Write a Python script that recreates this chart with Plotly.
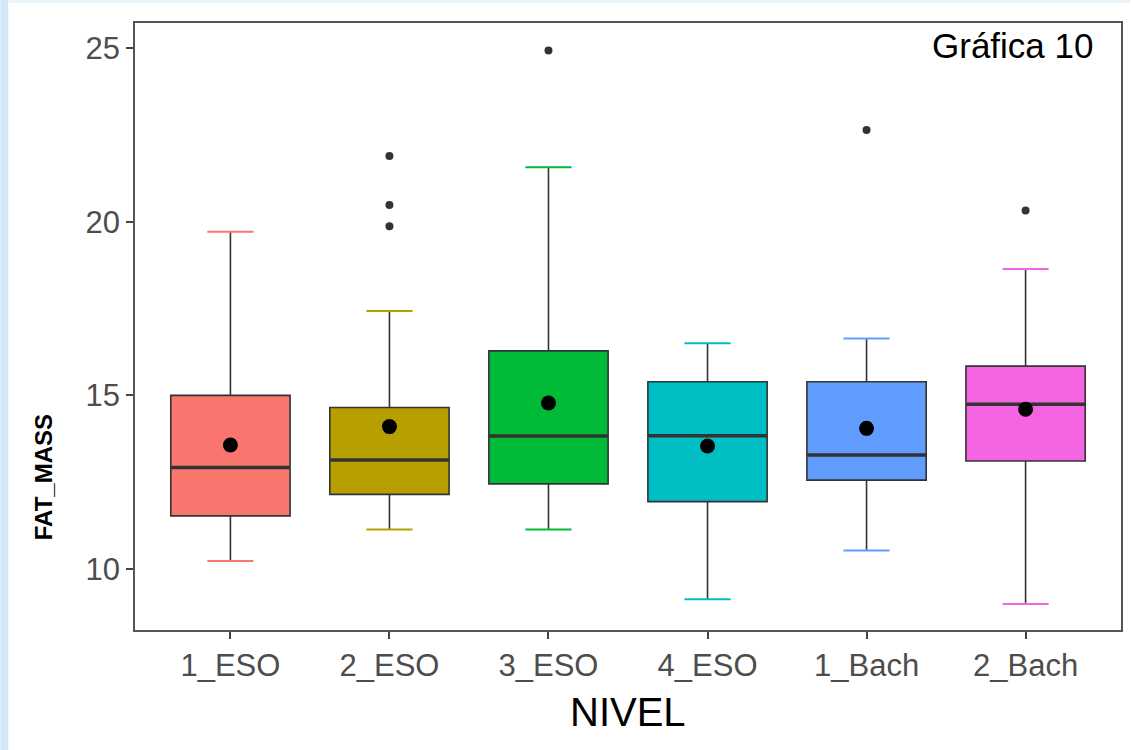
import plotly.graph_objects as go

# Fat mass by school level
niveles = ["1_ESO", "2_ESO", "3_ESO", "4_ESO", "1_Bach", "2_Bach"]
bigote_inf = [10.23, 11.14, 11.14, 9.13, 10.53, 8.99]
q1 = [11.53, 12.15, 12.45, 11.94, 12.56, 13.11]
mediana = [12.92, 13.14, 13.83, 13.84, 13.28, 14.74]
q3 = [15.00, 14.65, 16.28, 15.39, 15.39, 15.84]
bigote_sup = [19.71, 17.43, 21.57, 16.50, 16.64, 18.64]
media = [13.57, 14.10, 14.78, 13.54, 14.05, 14.60]
atipicos = [[], [19.87, 20.48, 21.89], [24.93], [], [22.64], [20.32]]
colores = ["#F8766D", "#B79F00", "#00BA38", "#00BFC4", "#619CFF", "#F564E3"]

ANCHO_CAJA = 0.75
ANCHO_TOPE = 0.29
OSCURO = "#333333"

fig = go.Figure()

for i, nombre in enumerate(niveles):
    fig.add_trace(go.Box(
        x=[i], q1=[q1[i]], median=[mediana[i]], q3=[q3[i]],
        lowerfence=[bigote_inf[i]], upperfence=[bigote_sup[i]],
        width=ANCHO_CAJA, whiskerwidth=0, boxpoints=False,
        fillcolor=colores[i], line=dict(color=OSCURO, width=1.6),
        name=nombre, hoverinfo="skip",
    ))
    # thick median line
    fig.add_trace(go.Scatter(
        x=[i - ANCHO_CAJA / 2, i + ANCHO_CAJA / 2], y=[mediana[i], mediana[i]],
        mode="lines", line=dict(color=OSCURO, width=3.5), hoverinfo="skip",
    ))
    # coloured whisker caps
    for extremo in (bigote_inf[i], bigote_sup[i]):
        fig.add_trace(go.Scatter(
            x=[i - ANCHO_TOPE / 2, i + ANCHO_TOPE / 2], y=[extremo, extremo],
            mode="lines", line=dict(color=colores[i], width=2), hoverinfo="skip",
        ))
    # outliers
    if atipicos[i]:
        fig.add_trace(go.Scatter(
            x=[i] * len(atipicos[i]), y=atipicos[i], mode="markers",
            marker=dict(color=OSCURO, size=8), hoverinfo="skip",
        ))

# group means
fig.add_trace(go.Scatter(
    x=list(range(len(niveles))), y=media, mode="markers",
    marker=dict(color="black", size=15), hoverinfo="skip",
))

fuente = "Liberation Sans, Arial, sans-serif"
ANCHO_AREA = 988
ALTO_AREA = 607

fig.update_layout(
    width=1133, height=750,
    margin=dict(l=135, r=10, t=23, b=120),
    paper_bgcolor="white", plot_bgcolor="white",
    showlegend=False,
    font=dict(family=fuente),
    xaxis=dict(
        range=[-0.6, 5.6], tickmode="array",
        tickvals=list(range(len(niveles))), ticktext=niveles,
        showgrid=False, zeroline=False,
        showline=True, mirror=True, linecolor="#555555", linewidth=1.5,
        ticks="outside", ticklen=7, tickwidth=2, tickcolor="#444444",
        tickfont=dict(size=31, color="#4D4D4D"),
    ),
    yaxis=dict(
        range=[8.244, 25.72], tickmode="array", tickvals=[10, 15, 20, 25],
        showgrid=False, zeroline=False,
        showline=True, mirror=True, linecolor="#555555", linewidth=1.5,
        ticks="outside", ticklen=7, tickwidth=2, tickcolor="#444444",
        tickfont=dict(size=31, color="#4D4D4D"),
    ),
    shapes=[
        dict(type="rect", xref="paper", yref="paper",
             x0=-135 / ANCHO_AREA, x1=-127 / ANCHO_AREA,
             y0=-120 / ALTO_AREA, y1=1 + 23 / ALTO_AREA,
             fillcolor="#D3E8F7", line=dict(width=0), layer="below"),
        dict(type="rect", xref="paper", yref="paper",
             x0=-127 / ANCHO_AREA, x1=1 + 10 / ANCHO_AREA,
             y0=1 + 20 / ALTO_AREA, y1=1 + 23 / ALTO_AREA,
             fillcolor="#EAF4FB", line=dict(width=0), layer="below"),
    ],
    annotations=[
        dict(text="Gráfica 10", xref="paper", yref="paper",
             x=(1097 - 135) / ANCHO_AREA, y=1 - 22 / ALTO_AREA,
             xanchor="right", yanchor="middle", showarrow=False,
             font=dict(size=35, color="black", family=fuente)),
        dict(text="NIVEL", xref="paper", yref="paper",
             x=0.5, y=-82 / ALTO_AREA,
             xanchor="center", yanchor="middle", showarrow=False,
             font=dict(size=40, color="black", family=fuente)),
        dict(text="<b>FAT_MASS</b>", xref="paper", yref="paper",
             x=-92 / ANCHO_AREA, y=0.252,
             xanchor="center", yanchor="middle", textangle=-90, showarrow=False,
             font=dict(size=24, color="black", family=fuente)),
    ],
)

fig.write_html("out.html")
